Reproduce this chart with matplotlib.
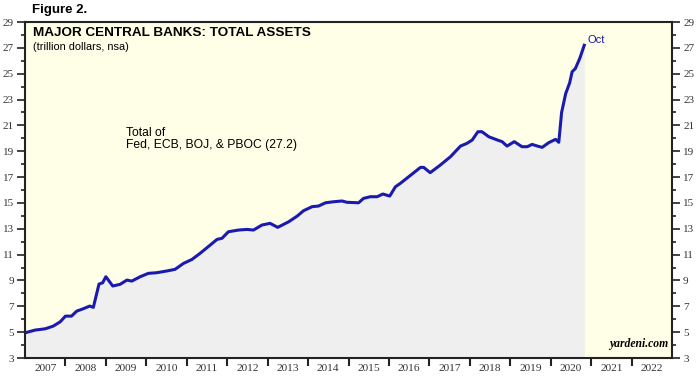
import numpy as np
import matplotlib
matplotlib.use("Agg")
import matplotlib.pyplot as plt


# total assets of Fed, ECB, BOJ & PBOC (trillion dollars)
years = [2007.0, 2007.25, 2007.5, 2007.7, 2007.87, 2008.0, 2008.15, 2008.28, 2008.44,
         2008.6, 2008.69, 2008.83, 2008.92, 2009.0, 2009.17, 2009.35, 2009.52, 2009.64,
         2009.85, 2010.05, 2010.26, 2010.5, 2010.71, 2010.92, 2011.13, 2011.33, 2011.58,
         2011.75, 2011.87, 2012.03, 2012.28, 2012.49, 2012.65, 2012.86, 2013.06, 2013.25,
         2013.52, 2013.73, 2013.89, 2014.1, 2014.26, 2014.43, 2014.63, 2014.84, 2014.96,
         2015.25, 2015.37, 2015.54, 2015.71, 2015.85, 2016.02, 2016.16, 2016.28, 2016.49,
         2016.78, 2016.86, 2017.02, 2017.27, 2017.52, 2017.77, 2017.93, 2018.06, 2018.2,
         2018.3, 2018.47, 2018.68, 2018.8, 2018.92, 2019.1, 2019.29, 2019.42, 2019.54,
         2019.67, 2019.79, 2019.95, 2020.12, 2020.2, 2020.27, 2020.37, 2020.47, 2020.53,
         2020.61, 2020.72, 2020.83]
assets = [4.95, 5.16, 5.26, 5.47, 5.8, 6.24, 6.24, 6.63, 6.81,
          7.02, 6.92, 8.72, 8.82, 9.29, 8.57, 8.70, 9.03, 8.95,
          9.29, 9.55, 9.60, 9.73, 9.86, 10.32, 10.63, 11.1, 11.74,
          12.18, 12.26, 12.77, 12.9, 12.95, 12.9, 13.29, 13.42, 13.11,
          13.54, 13.98, 14.4, 14.71, 14.76, 15.01, 15.09, 15.15, 15.05,
          15.01, 15.35, 15.48, 15.48, 15.69, 15.53, 16.25, 16.51, 17.03,
          17.75, 17.75, 17.34, 17.93, 18.57, 19.4, 19.61, 19.87, 20.51,
          20.51, 20.12, 19.87, 19.74, 19.4, 19.74, 19.35, 19.35, 19.53,
          19.4, 19.3, 19.66, 19.92, 19.69, 22.0, 23.45, 24.3, 25.15,
          25.4, 26.19, 27.2]
year_labels = [str(y) for y in range(2007, 2023)]
yticks = list(range(3, 30, 2))

line_col = "#1a1ab0"

fig = plt.figure(figsize=(6.97, 3.82), dpi=100)
ax = fig.add_axes([25 / 697, 24 / 382, 647 / 697, 336 / 382])
ax.set_facecolor("#fffee6")

ax.fill_between(years, assets, 3, color="#efefef", lw=0)
ax.plot(years, assets, color=line_col, lw=2.2, solid_joinstyle="round")
ax.text(years[-1] + 0.08, assets[-1] + 0.05, "Oct", color=line_col, fontsize=8,
        family="Liberation Sans", va="bottom")

ax.set_xlim(2007, 2023)
ax.set_ylim(3, 29)

# year boundaries get the tick marks, labels sit in the middle of each year
ax.set_xticks(range(2008, 2023))
ax.set_xticklabels([])
ax.set_xticks([y + 0.5 for y in range(2007, 2023)], minor=True)
ax.set_xticklabels(year_labels, minor=True, family="Liberation Serif", fontsize=8.2,
                   color="#333333")
ax.tick_params(axis="x", which="major", direction="out", length=6, width=1.5, color="#222222")
ax.tick_params(axis="x", which="minor", length=0, pad=4)

ax.set_yticks(yticks)
ax.set_yticks(range(4, 29, 2), minor=True)
ax.set_yticklabels([str(t) for t in yticks], family="Liberation Serif", fontsize=8,
                   color="#333333")
ax.tick_params(axis="y", which="both", direction="out", right=True, labelright=True,
               width=1.2, color="#222222")
ax.tick_params(axis="y", which="major", length=6, pad=2)
ax.tick_params(axis="y", which="minor", length=3)

for s in ax.spines.values():
    s.set_linewidth(1.5)
    s.set_color("#222222")

ax.text(0.012, 0.985, "MAJOR CENTRAL BANKS: TOTAL ASSETS", transform=ax.transAxes,
        fontsize=9.7, fontweight="bold", family="Liberation Sans", va="top")
ax.text(0.012, 0.94, "(trillion dollars, nsa)", transform=ax.transAxes,
        fontsize=7.9, family="Liberation Sans", va="top")
ax.text(2009.5, 20.9, "Total of\nFed, ECB, BOJ, & PBOC (27.2)", fontsize=8.7,
        family="Liberation Sans", va="top", linespacing=1.0)
ax.text(0.995, 0.025, "yardeni.com", transform=ax.transAxes, ha="right", va="bottom",
        fontsize=8.4, fontweight="bold", style="italic", family="Liberation Serif")

fig.text(32 / 697, 1 - 10 / 382, "Figure 2.", fontsize=9.5, fontweight="bold",
         family="Liberation Sans", va="center")

fig.savefig("out.png", dpi=100)
